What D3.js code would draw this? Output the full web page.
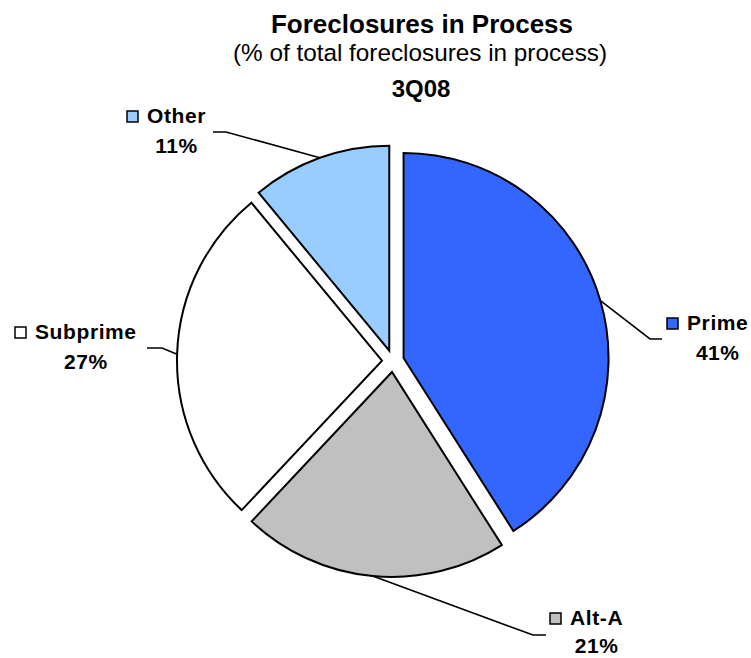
<!DOCTYPE html>
<html>
<head>
<meta charset="utf-8">
<script src="https://cdn.jsdelivr.net/npm/d3@7"></script>
<style>
  body { margin: 0; background: #fff; }
  text { font-family: "Liberation Sans", Arial, sans-serif; fill: #000; }
</style>
</head>
<body>
<div id="chart"></div>
<script>
// data
const categories = ['Prime', 'Alt-A', 'Subprime', 'Other'];
const shares = [41, 21, 27, 11];
const shareLabels = ['41%', '21%', '27%', '11%'];
const sliceColors = ['#3366FF', '#C0C0C0', '#FFFFFF', '#99CCFF'];
const titleLines = ['Foreclosures in Process', '(% of total foreclosures in process)', '3Q08'];

// layout
const width = 751, height = 658;
const cx = 393, cy = 361, radius = 205, explode = 11;

// label anchors: start of the name text, baseline, gap to second line, leader elbow
const labelLayout = {
  'Prime':    { x: 687, y: 330, gap: 30, elbow: [650, 339], end: 662 },
  'Alt-A':    { x: 570, y: 625, gap: 28, elbow: [533, 635], end: 546 },
  'Subprime': { x: 35,  y: 339, gap: 30, elbow: [162, 348], end: 147 },
  'Other':    { x: 147, y: 123, gap: 30, elbow: [226, 132], end: 213 },
};

const data = categories.map((c, i) => ({
  name: c, value: shares[i], label: shareLabels[i], color: sliceColors[i],
}));

const svg = d3.select('#chart')
  .append('svg')
  .attr('width', width)
  .attr('height', height);

// titles
svg.append('text')
  .attr('x', 422).attr('y', 33)
  .attr('text-anchor', 'middle')
  .style('font-size', '26px').style('font-weight', 'bold')
  .text(titleLines[0]);

svg.append('text')
  .attr('x', 420).attr('y', 61)
  .attr('text-anchor', 'middle')
  .style('font-size', '24.3px')
  .text(titleLines[1]);

svg.append('text')
  .attr('x', 421).attr('y', 97)
  .attr('text-anchor', 'middle')
  .style('font-size', '24px').style('font-weight', 'bold')
  .text(titleLines[2]);

const pie = d3.pie().sort(null).value(d => d.value);
const arc = d3.arc().innerRadius(0).outerRadius(radius);
const arcs = pie(data);

const midAngle = d => (d.startAngle + d.endAngle) / 2;
const offset = (d, r) => [Math.sin(midAngle(d)) * r, -Math.cos(midAngle(d)) * r];

const g = svg.append('g').attr('transform', `translate(${cx},${cy})`);

g.selectAll('path.slice')
  .data(arcs)
  .enter()
  .append('path')
  .attr('class', 'slice')
  .attr('d', arc)
  .attr('transform', d => {
    const [dx, dy] = offset(d, explode);
    return `translate(${dx},${dy})`;
  })
  .style('fill', d => d.data.color)
  .style('stroke', '#000')
  .style('stroke-width', 2)
  .style('stroke-linejoin', 'miter');

// leader lines
g.selectAll('polyline.leader')
  .data(arcs)
  .enter()
  .append('polyline')
  .attr('class', 'leader')
  .attr('points', d => {
    const [ex, ey] = offset(d, explode);
    const [ax, ay] = offset(d, radius);
    const lay = labelLayout[d.data.name];
    return [
      [ex + ax, ey + ay],
      [lay.elbow[0] - cx, lay.elbow[1] - cy],
      [lay.end - cx, lay.elbow[1] - cy],
    ].map(p => p.join(',')).join(' ');
  })
  .style('fill', 'none')
  .style('stroke', '#000')
  .style('stroke-width', 1.6);

// labels
const labels = svg.selectAll('g.label')
  .data(arcs)
  .enter()
  .append('g')
  .attr('class', 'label');

labels.append('rect')
  .attr('x', d => labelLayout[d.data.name].x - 20)
  .attr('y', d => labelLayout[d.data.name].y - 12)
  .attr('width', 11)
  .attr('height', 11)
  .style('fill', d => d.data.color)
  .style('stroke', '#000')
  .style('stroke-width', 1.5);

labels.append('text')
  .attr('class', 'name')
  .attr('x', d => labelLayout[d.data.name].x)
  .attr('y', d => labelLayout[d.data.name].y)
  .style('font-size', '21px').style('font-weight', 'bold')
  .style('letter-spacing', '0.6px')
  .text(d => d.data.name);

labels.each(function(d) {
  const grp = d3.select(this);
  const w = grp.select('text.name').node().getComputedTextLength();
  const lay = labelLayout[d.data.name];
  grp.append('text')
    .attr('x', lay.x + w / 2)
    .attr('y', lay.y + lay.gap)
    .attr('text-anchor', 'middle')
    .style('font-size', '21px').style('font-weight', 'bold')
    .style('letter-spacing', '0.5px')
    .text(d.data.label);
});
</script>
</body>
</html>
